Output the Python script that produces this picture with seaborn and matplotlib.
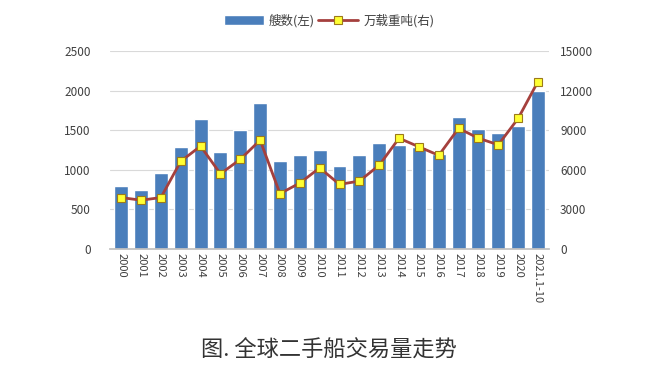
import numpy as np
import pandas as pd
import matplotlib.pyplot as plt
import seaborn as sns

# data
years = ['2000', '2001', '2002', '2003', '2004', '2005', '2006', '2007', '2008', '2009', '2010',
         '2011', '2012', '2013', '2014', '2015', '2016', '2017', '2018', '2019', '2020', '2021.1-10']
ships = [800, 740, 960, 1290, 1640, 1220, 1500, 1840, 1110, 1190, 1250,
         1050, 1190, 1340, 1320, 1290, 1200, 1670, 1520, 1470, 1550, 2000]
dwt = [3900, 3700, 3900, 6650, 7800, 5700, 6800, 8250, 4200, 5000, 6150,
       4900, 5150, 6350, 8400, 7750, 7100, 9150, 8400, 7900, 9900, 12700]

df = pd.DataFrame({'year': years, 'ships': ships, 'dwt': dwt})
df['pos'] = df.index

sns.set_theme(style='white')
plt.rcParams['font.family'] = ['Noto Sans CJK SC', 'DejaVu Sans']

fig = plt.figure(figsize=(6.45, 3.79), dpi=100)
ax = fig.add_axes([0.171, 0.343, 0.680, 0.522])

sns.barplot(data=df, x='year', y='ships', color='#4A7EBB', saturation=1,
            width=0.7, ax=ax, label='艘数(左)', zorder=2)
ax.get_legend().remove()
ax.set_ylim(0, 2500)
ax.set_yticks(range(0, 2501, 500))
ax.grid(axis='y', color='#D9D9D9', lw=0.8, zorder=0)
ax.set_axisbelow(True)
ax.set_xlabel('')
ax.set_ylabel('')
ax.tick_params(axis='x', labelrotation=270, labelsize=8, colors='#404040', length=0, pad=3)
ax.tick_params(axis='y', labelsize=8.5, colors='#404040', length=0, pad=14)
for s in ['top', 'left', 'right']:
    ax.spines[s].set_visible(False)
ax.spines['bottom'].set_color('#BFBFBF')
ax.set_xlim(-0.55, len(years) - 0.45)

ax2 = ax.twinx()
sns.lineplot(data=df, x='pos', y='dwt', ax=ax2, color='#A5403D', lw=2,
             marker='s', markersize=6, markerfacecolor='#FFFF33',
             markeredgecolor='#9C7A1A', markeredgewidth=0.8, label='万载重吨(右)')
ax2.set_ylim(0, 15000)
ax2.set_yticks(range(0, 15001, 3000))
ax2.set_ylabel('')
ax2.set_xlabel('')
ax2.tick_params(axis='y', labelsize=8.5, colors='#404040', length=0, pad=8)
for s in ax2.spines.values():
    s.set_visible(False)
ax2.set_xlim(-0.55, len(years) - 0.45)
ax2.get_legend().remove()

h1, l1 = ax.get_legend_handles_labels()
h2, l2 = ax2.get_legend_handles_labels()
fig.legend(h1 + h2, l1 + l2, loc='center', bbox_to_anchor=(0.51, 0.945), ncol=2,
           frameon=False, fontsize=9, handlelength=3.2, handleheight=0.9,
           columnspacing=0.3, handletextpad=0.4, labelcolor='#404040')

fig.text(0.51, 0.077, '图. 全球二手船交易量走势', ha='center', va='center',
         fontsize=16, color='#333333')

fig.savefig('out.png', dpi=100)
